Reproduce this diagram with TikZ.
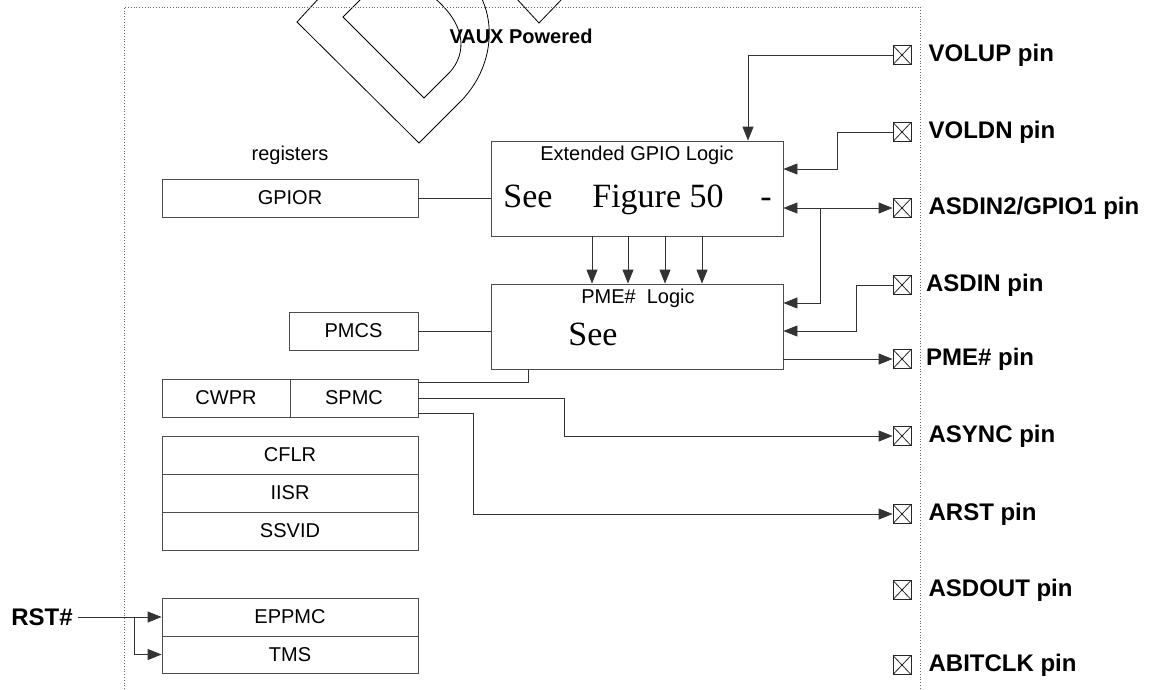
\documentclass[tikz,border=0pt]{standalone}
\usepackage{fontspec}
\setmainfont{Liberation Sans}
\newfontfamily\seriffont{Liberation Serif}
\usetikzlibrary{arrows.meta, positioning}

\begin{document}
\begin{tikzpicture}[
        x=1pt, y=-1pt,
        every node/.style={font=\fontsize{20}{24}\selectfont},
        regbox/.style={draw=black!70, line width=0.8pt, rectangle, minimum width=256pt, minimum height=38pt, inner sep=0pt},
        logicbox/.style={draw=black!70, line width=0.8pt, rectangle, minimum width=292pt, inner sep=0pt},
        bigtext/.style={font=\seriffont\fontsize{34}{40}\selectfont, anchor=base},
        pinbox/.style={draw=black!85, line width=0.8pt, minimum width=18pt, minimum height=19pt, inner sep=0pt,
            path picture={\draw[black!85, line width=0.8pt] (path picture bounding box.north west) -- (path picture bounding box.south east)
                (path picture bounding box.south west) -- (path picture bounding box.north east);}},
        pinlabel/.style={font=\bfseries\fontsize{24}{28}\selectfont, inner sep=0pt},
        wire/.style={black!80, line width=0.8pt},
        arrow/.style={wire, -{Triangle[length=14pt, width=11pt]}},
        dblarrow/.style={wire, {Triangle[length=14pt, width=11pt]}-{Triangle[length=14pt, width=11pt]}}
    ]
    \useasboundingbox (0,0) rectangle (1149,689);

    % Watermark
    \begin{scope}
        \clip (0,0) rectangle (1149,689);
        \draw[line width=0.8pt] (320,-3) -- (297,22) -- (419,143) -- (462,100) .. controls (492,68) and (496,25) .. (480,-5);
        \draw[line width=0.8pt] (364,-4) -- (343,17) -- (424,98) -- (450,72) .. controls (466,54) and (468,25) .. (432,-4);
        \draw[line width=0.8pt] (516,-2) -- (539,23) -- (563,-2);
    \end{scope}

    % Frame
    \draw[black!60, dotted, line width=0.8pt] (124,689) -- (124,7) -- (920,7) -- (920,689);
    \node[font=\bfseries\fontsize{20}{24}\selectfont] (vaux) at (521,36) {VAUX Powered};

    % Logic blocks
    \node[logicbox, minimum height=95pt] (gpio) at (637,188.5) {};
    \node (gpiotitle) at (637,155) {Extended GPIO Logic};
    \node[bigtext] (gpiosee) at (528,207) {See};
    \node[bigtext] (gpiofig) at (658,207) {Figure 50};
    \node[bigtext] (gpiodash) at (766,207) {-};

    \node[logicbox, minimum height=85pt] (pme) at (637,326.5) {};
    \node (pmetitle) at (638,298) {PME\#\ \ Logic};
    \node[bigtext] (pmesee) at (593,345) {See};

    % Registers
    \node (reglabel) at (290,155) {registers};
    \node[regbox] (gpior) at (290,198) {GPIOR};
    \node[regbox, minimum width=129pt] (pmcs) at (353.5,331) {PMCS};
    \node[regbox, minimum width=128pt] (cwpr) at (226,398) {CWPR};
    \node[regbox, minimum width=128pt] (spmc) at (354,398) {SPMC};
    \node[regbox] (cflr) at (290,455) {CFLR};
    \node[regbox] (iisr) at (290,493) {IISR};
    \node[regbox] (ssvid) at (290,531) {SSVID};
    \node[regbox] (eppmc) at (290,617) {EPPMC};
    \node[regbox, minimum height=37pt] (tms) at (290,654.5) {TMS};
    \node[pinlabel, inner sep=5pt] (rst) at (42,617) {RST\#};

    % Pins
    \node[pinbox] (volup) at (902,55) {};
    \node[pinbox] (voldn) at (902,132) {};
    \node[pinbox] (asdintwo) at (902,208) {};
    \node[pinbox] (asdin) at (902,285) {};
    \node[pinbox] (pmepin) at (902,359) {};
    \node[pinbox] (async) at (902,436) {};
    \node[pinbox] (arst) at (902,514) {};
    \node[pinbox] (asdout) at (902,590) {};
    \node[pinbox] (abitclk) at (902,665) {};

    \node[pinlabel, right=17pt of volup] (volupl) {VOLUP pin};
    \node[pinlabel, right=17pt of voldn] (voldnl) {VOLDN pin};
    \node[pinlabel, right=17pt of asdintwo] (asdintwol) {ASDIN2/GPIO1 pin};
    \node[pinlabel, right=14.5pt of asdin] (asdinl) {ASDIN pin};
    \node[pinlabel, right=14.5pt of pmepin] (pmepinl) {PME\# pin};
    \node[pinlabel, right=17pt of async] (asyncl) {ASYNC pin};
    \node[pinlabel, right=17pt of arst] (arstl) {ARST pin};
    \node[pinlabel, right=17pt of asdout] (asdoutl) {ASDOUT pin};
    \node[pinlabel, right=17pt of abitclk] (abitclkl) {ABITCLK pin};

    % Arrows
    \draw[arrow] (volup.west) -| ([xshift=111pt]gpio.north);
    \draw[arrow] (voldn.west) -- ++(-55,0) |- ([yshift=19.5pt]gpio.east);
    \draw[dblarrow] ([yshift=-19.5pt]gpio.east) -- (asdintwo.west);
    \coordinate (asdinbr) at (820,208);
    \draw[arrow] (asdinbr) |- ([yshift=23.5pt]pme.east);
    \draw[arrow] (asdin.west) -- ++(-36,0) |- ([yshift=-4.5pt]pme.east);
    \draw[arrow] ([yshift=-32.5pt]pme.east) -- (pmepin.west);
    \foreach \dx in {-45,-9,28,65}
        \draw[arrow] ([xshift=\dx pt]gpio.south) -- ([xshift=\dx pt]pme.north);

    \draw[wire] (gpior.east) -- (gpior.east -| gpio.west);
    \draw[wire] (pmcs.east) -- (pmcs.east -| pme.west);
    \draw[wire] ([yshift=16pt]spmc.east) -| ([xshift=-109pt]pme.south);
    \draw[arrow] (spmc.east) -- ++(146,0) |- (async.west);
    \draw[arrow] ([yshift=-15pt]spmc.east) -- ++(55,0) |- (arst.west);

    \draw[arrow] (rst.east) -- (eppmc.west);
    \coordinate (rstbr) at (134,617);
    \draw[arrow] (rstbr) |- (tms.west);
\end{tikzpicture}
\end{document}
